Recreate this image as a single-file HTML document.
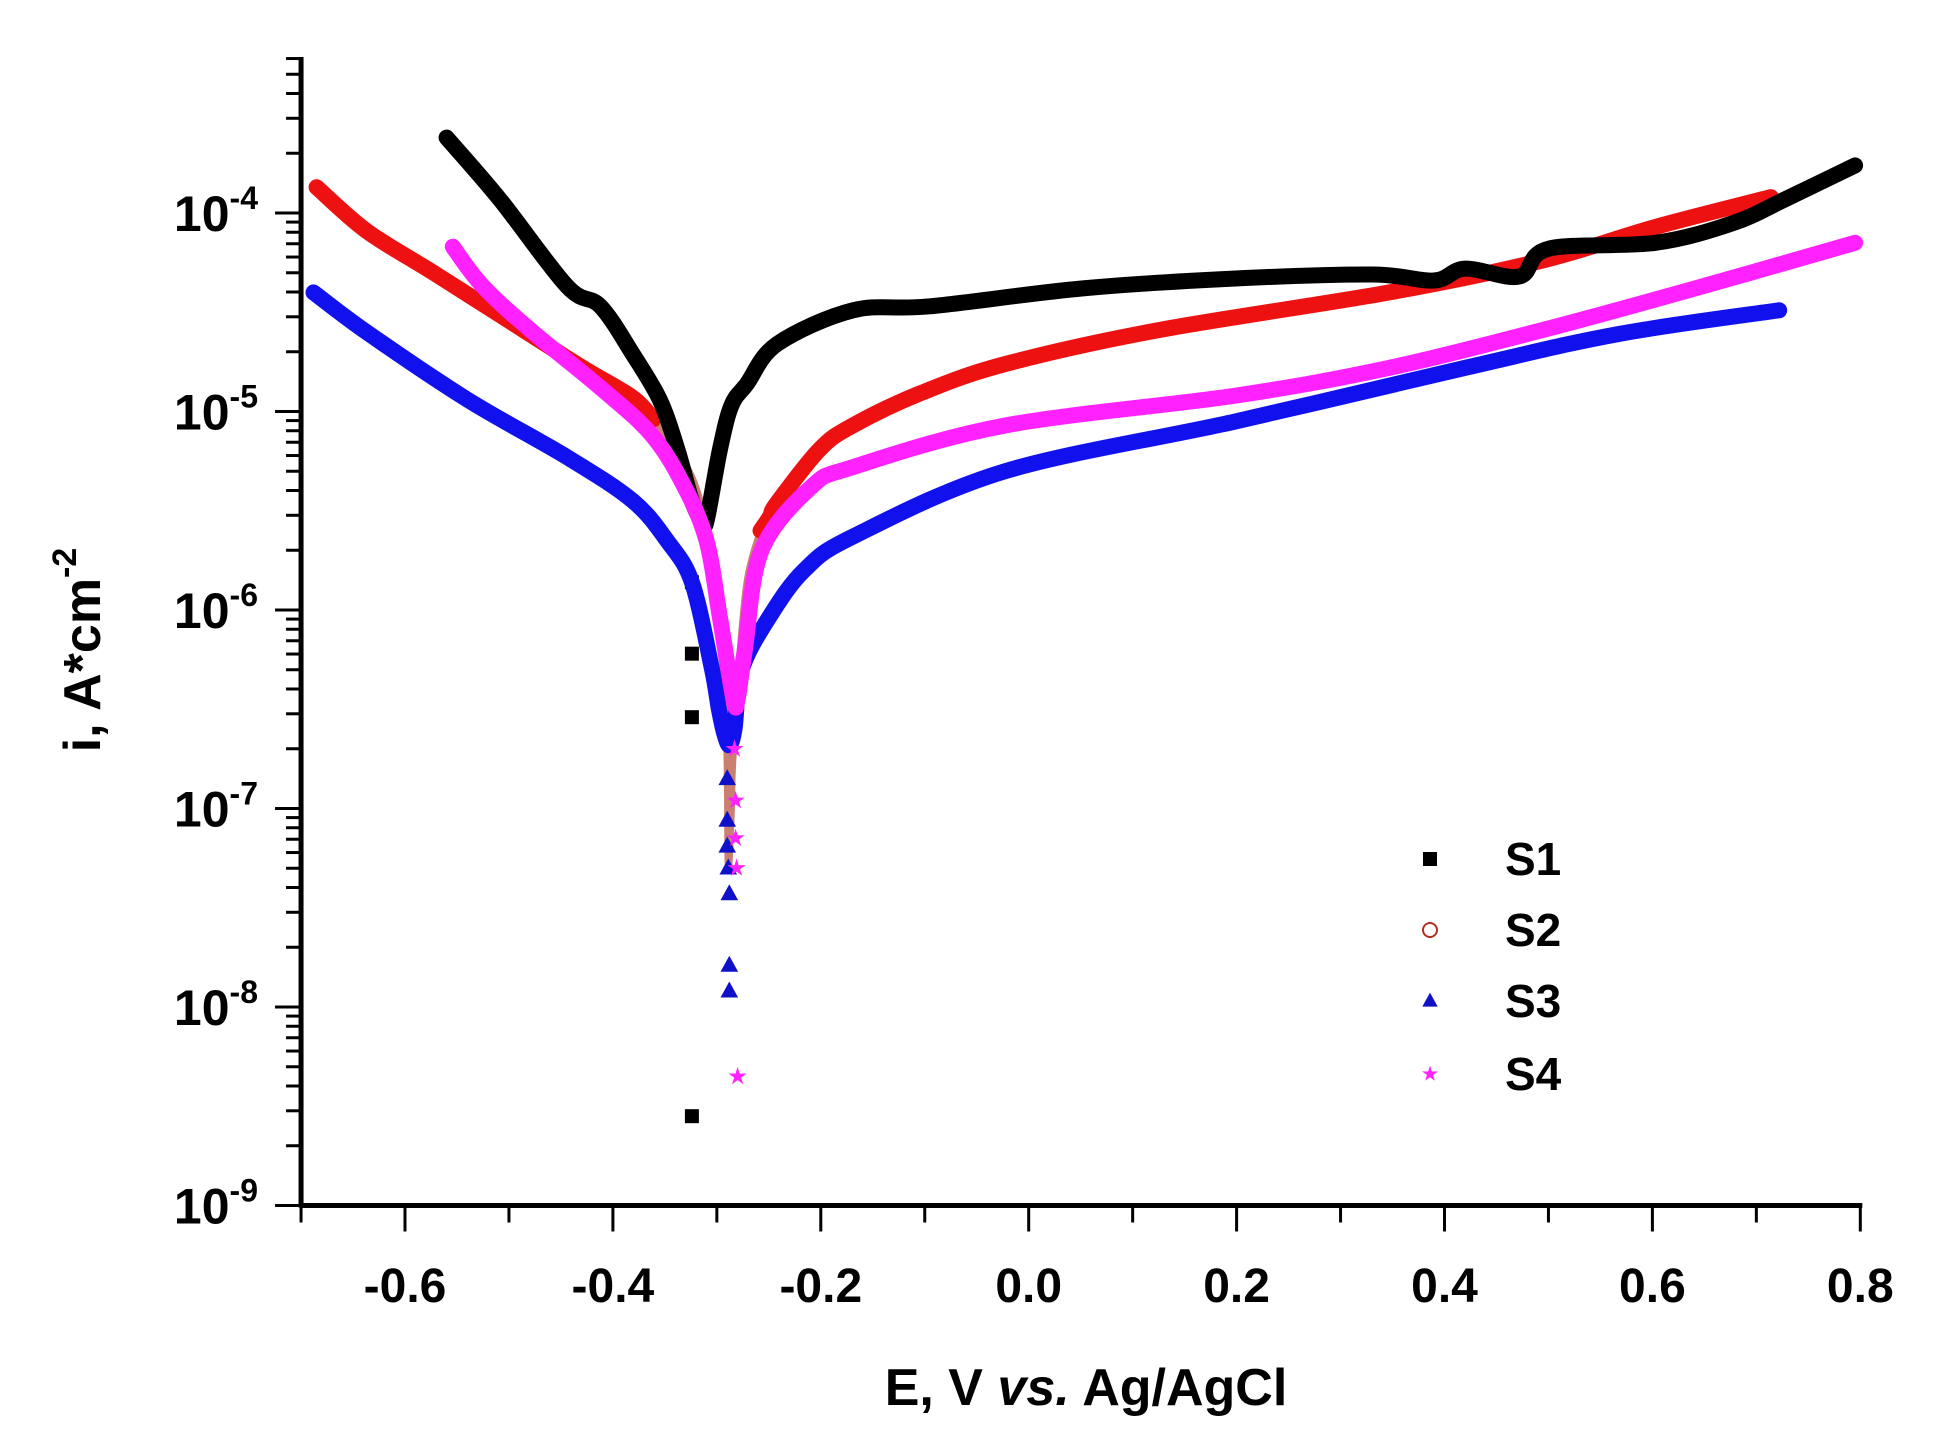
<!DOCTYPE html>
<html><head><meta charset="utf-8"><style>
html,body{margin:0;padding:0;background:#fff;}
svg{display:block;font-family:"Liberation Sans",Arial,sans-serif;font-weight:bold;}
</style></head><body>
<svg id="chart" width="1948" height="1456" viewBox="0 0 1948 1456" xmlns="http://www.w3.org/2000/svg">
<g id="grid-layer"></g>
<g id="series-layer"></g>
<g id="label-layer"></g>
</svg>
<script>
const xTicks = [-0.6,-0.4,-0.2,0.0,0.2,0.4,0.6,0.8];
const xTickLabels = ["-0.6","-0.4","-0.2","0.0","0.2","0.4","0.6","0.8"];
const yDecades = [-9,-8,-7,-6,-5,-4];
// S1 black: E (V) and log10(i)
const s1E = [-0.560,-0.509,-0.444,-0.412,-0.381,-0.355,-0.338,-0.324,-0.313,-0.309,-0.297,-0.286,-0.271,-0.242,-0.169,-0.095,0.052,0.199,0.331,0.390,0.420,0.472,0.500,0.603,0.678,0.728,0.795];
const s1L = [-3.62,-3.93,-4.37,-4.47,-4.71,-4.94,-5.19,-5.45,-5.56,-5.53,-5.19,-4.97,-4.86,-4.66,-4.49,-4.47,-4.38,-4.33,-4.31,-4.34,-4.28,-4.32,-4.18,-4.15,-4.05,-3.93,-3.76];
const s1TailE = [-0.324,-0.324,-0.324,-0.324];
const s1TailL = [-5.86,-6.22,-6.54,-8.55];
// S2 red
const s2LeftE = [-0.685,-0.637,-0.573,-0.492,-0.429,-0.381,-0.361];
const s2LeftL = [-3.87,-4.09,-4.30,-4.57,-4.78,-4.93,-5.04];
const s2TipE = [-0.355,-0.345,-0.333,-0.319,-0.305,-0.297,-0.292,-0.290,-0.289,-0.286,-0.285,-0.280,-0.271,-0.258];
const s2TipL = [-5.08,-5.15,-5.24,-5.40,-5.70,-6.00,-6.40,-6.80,-7.30,-7.0,-6.80,-6.37,-5.86,-5.60];
const s2RightE = [-0.258,-0.249,-0.242,-0.201,-0.169,-0.105,-0.022,0.125,0.347,0.494,0.603,0.714];
const s2RightL = [-5.60,-5.53,-5.46,-5.19,-5.07,-4.91,-4.76,-4.59,-4.40,-4.24,-4.07,-3.92];
// S3 blue
const s3E = [-0.688,-0.637,-0.540,-0.444,-0.381,-0.348,-0.324,-0.305,-0.298,-0.293,-0.288,-0.283,-0.276,-0.250,-0.216,-0.169,-0.022,0.199,0.420,0.567,0.722];
const s3L = [-4.40,-4.60,-4.94,-5.23,-5.45,-5.65,-5.86,-6.29,-6.50,-6.62,-6.68,-6.60,-6.30,-6.04,-5.80,-5.63,-5.30,-5.05,-4.78,-4.61,-4.49];
const s3TailE = [-0.290,-0.290,-0.290,-0.289,-0.288,-0.288,-0.288];
const s3TailL = [-6.85,-7.06,-7.19,-7.30,-7.43,-7.79,-7.92];
// S4 magenta
const s4E = [-0.554,-0.525,-0.477,-0.412,-0.364,-0.333,-0.310,-0.297,-0.284,-0.280,-0.273,-0.257,-0.209,-0.169,-0.022,0.199,0.347,0.494,0.641,0.795];
const s4L = [-4.17,-4.37,-4.60,-4.88,-5.11,-5.36,-5.65,-6.04,-6.45,-6.45,-6.20,-5.70,-5.38,-5.28,-5.07,-4.92,-4.78,-4.59,-4.38,-4.15];
const s4TailE = [-0.283,-0.282,-0.282,-0.281,-0.280];
const s4TailL = [-6.70,-6.96,-7.15,-7.30,-8.35];
const seriesNames = ["S1","S2","S3","S4"];

const NS = "http://www.w3.org/2000/svg";
function xPx(E){ return 405 + (E + 0.6) / 0.2 * 207.9; }
function yPx(L){ return 213 + (-4 - L) * 198.5; }
function mk(tag, attrs, parent){
  const el = document.createElementNS(NS, tag);
  for (const k in attrs) el.setAttribute(k, attrs[k]);
  parent.appendChild(el);
  return el;
}
function smoothPath(Es, Ls){
  const p = Es.map((E,i)=>[xPx(E), yPx(Ls[i])]);
  let d = 'M' + p[0][0].toFixed(1) + ',' + p[0][1].toFixed(1);
  for (let i = 0; i < p.length - 1; i++) {
    const p0 = p[Math.max(0,i-1)], p1 = p[i], p2 = p[i+1], p3 = p[Math.min(p.length-1,i+2)];
    const c1 = [p1[0] + (p2[0]-p0[0])/6, p1[1] + (p2[1]-p0[1])/6];
    const c2 = [p2[0] - (p3[0]-p1[0])/6, p2[1] - (p3[1]-p1[1])/6];
    d += ' C' + c1[0].toFixed(1)+','+c1[1].toFixed(1)+' '+c2[0].toFixed(1)+','+c2[1].toFixed(1)+' '+p2[0].toFixed(1)+','+p2[1].toFixed(1);
  }
  return d;
}
const axes = document.getElementById('grid-layer');
const ser = document.getElementById('series-layer');
const lab = document.getElementById('label-layer');
const X0 = xPx(-0.7), X1 = xPx(0.8), Y0 = yPx(-9), YT = 57;

let a = mk('line', {x1:X0, y1:Y0, x2:X1+2, y2:Y0, stroke:'#000','stroke-width':5}, axes);


a = mk('line', {x1:X0, y1:YT, x2:X0, y2:Y0+2, stroke:'#000','stroke-width':5}, axes);



for (let k = -7; k <= 8; k++) {
  const E = k / 10, major = (k % 2 === 0);
  const t = mk('line', {x1:xPx(E), y1:Y0, x2:xPx(E), y2:Y0 + (major ? 26 : 17), stroke:'#000','stroke-width':3}, axes);
  
  
}
xTicks.forEach((E, i) => {
  const t = mk('text', {x:xPx(E), y:1302, 'text-anchor':'middle','font-size':48}, lab);
  t.textContent = xTickLabels[i];
  
  
});
yDecades.forEach(d => {
  const t = mk('line', {x1:X0-26, y1:yPx(d), x2:X0, y2:yPx(d), stroke:'#000','stroke-width':3}, axes);
  
  
  for (let m = 2; m <= 9; m++) {
    const yy = yPx(d + Math.log10(m));
    if (yy < YT) continue;
    const mt = mk('line', {x1:X0-15, y1:yy, x2:X0, y2:yy, stroke:'#000','stroke-width':3}, axes);
    
    
  }
  const tx = mk('text', {x:258, y:yPx(d)+18, 'text-anchor':'end','font-size':50}, lab);
  const b = mk('tspan', {}, tx); b.textContent = '10';
  const s = mk('tspan', {dy:-22, 'font-size':32}, tx); s.textContent = String(d);
  
  
});
let tt = mk('text', {x:1086, y:1405, 'text-anchor':'middle','font-size':52}, lab);
mk('tspan', {}, tt).textContent = 'E, V ';
mk('tspan', {'font-style':'italic'}, tt).textContent = 'vs.';
mk('tspan', {}, tt).textContent = ' Ag/AgCl';


tt = mk('text', {x:0, y:0, 'text-anchor':'middle','font-size':52, transform:'translate(100,650) rotate(-90)'}, lab);
mk('tspan', {}, tt).textContent = 'i, A*cm';
mk('tspan', {dy:-24,'font-size':34}, tt).textContent = '-2';



const colors = ['#000000','#ee1111','#1111ee','#ff22ff'];
function marker(i, cx, cy, parent, r){
  let m;
  if (i === 0) m = mk('rect', {x:cx-r, y:cy-r, width:2*r, height:2*r, fill:colors[0]}, parent);
  else if (i === 1) m = mk('circle', {cx:cx, cy:cy, r:r, fill:'none', stroke:'#b03020','stroke-width':2}, parent);
  else if (i === 2) m = mk('polygon', {points:`${cx},${cy-r*1.2} ${cx-r*1.1},${cy+r*0.8} ${cx+r*1.1},${cy+r*0.8}`, fill:'#1010c8'}, parent);
  else m = mk('polygon', {points:(() => { let p=[]; for(let k=0;k<10;k++){const rr=k%2?r*0.45:r*1.2;const ang=-Math.PI/2+k*Math.PI/5;p.push((cx+rr*Math.cos(ang)).toFixed(1)+','+(cy+rr*Math.sin(ang)).toFixed(1));} return p.join(' '); })(), fill:colors[3]}, parent);
  return m;
}
function curve(g, Es, Ls, color, w, name){
  const p = mk('path', {d:smoothPath(Es, Ls), fill:'none', stroke:color, 'stroke-width':w, 'stroke-linejoin':'round','stroke-linecap':'round'}, g);
  
  
}
function group(n){
  const g = mk('g', {}, ser);
  
  
  return g;
}
let g2 = group('s2');
curve(g2, s2TipE, s2TipL, '#c98070', 7, 'curve-s2-tip');
curve(g2, s2LeftE, s2LeftL, colors[1], 16, 'curve-s2-cathodic');
curve(g2, s2RightE, s2RightL, colors[1], 16, 'curve-s2-anodic');
let g1 = group('s1');
curve(g1, s1E, s1L, colors[0], 16, 'curve-s1');
s1TailE.forEach((E, j) => {
  const m = marker(0, xPx(E), yPx(s1TailL[j]), g1, 7);
  
  
});
let g3 = group('s3');
curve(g3, s3E, s3L, colors[2], 16, 'curve-s3');
s3TailE.forEach((E, j) => {
  const m = marker(2, xPx(E), yPx(s3TailL[j]), g3, 8);
  
  
});
let g4 = group('s4');
curve(g4, s4E, s4L, colors[3], 16, 'curve-s4');
s4TailE.forEach((E, j) => {
  const m = marker(3, xPx(E), yPx(s4TailL[j]), g4, 8);
  
  
});

const lg = mk('g', {}, lab);


const legY = [859, 930, 1001, 1074];
seriesNames.forEach((n, i) => {
  const m = marker(i, 1430, legY[i], lg, 7);
  
  
  const t = mk('text', {x:1505, y:legY[i]+16, 'font-size':46}, lg);
  t.textContent = n;
  
  
});
</script>
</body></html>
